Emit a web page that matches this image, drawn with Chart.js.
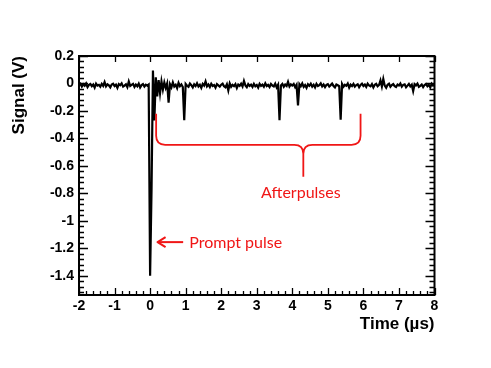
<!DOCTYPE html>
<html><head><meta charset="utf-8">
<script src="https://cdn.jsdelivr.net/npm/chart.js@4/dist/chart.umd.min.js"></script>
<style>html,body{margin:0;padding:0;background:#fff}#wrap{width:491px;height:368px}</style>
</head><body><div id="wrap"><canvas id="c" width="491" height="368"></canvas></div>
<script>
// ---- data (oscilloscope trace, sampled every 0.04 µs from -2 µs) ----
const sampleStart = -2.0;   // µs
const sampleStep = 0.04;    // µs
const signalMilliVolts = [
  // -2.00 .. -1.04
  -12,-2,-22,-6,-17,0,-26,-10,-4,-20,-8,-30,-1,-15,-10,-24,-3,-18,10,-21,-6,-14,-28,-8,-2,
  // -1.00 .. -0.04
  -19,-9,-32,-4,-13,1,-23,-15,-6,-27,14,-18,-10,-3,-25,-8,-20,-1,-29,-12,-5,-22,-9,-16,-8,
  // 0.00 .. 0.96 (prompt pulse, ringing, afterpulses)
  -1400,-780,95,-270,45,-95,25,-70,15,-45,8,-32,0,-140,-6,-28,8,-22,-10,-34,4,-20,-7,-26,-268,
  // 1.00 .. 1.96
  -4,-17,-24,-1,-13,-29,-6,-19,1,-22,-10,-32,-3,-15,15,-21,-8,-26,-2,-18,-11,-31,-5,-14,-23,
  // 2.00 .. 2.96
  -9,-1,-20,-28,-6,-50,0,-24,-10,-19,-4,-33,-8,-17,-2,-22,18,-14,-27,-5,-18,-9,-25,-3,-20,
  // 3.00 .. 3.96
  -11,-30,-2,-17,-8,-23,1,-19,-10,-26,-4,-15,-21,-1,-28,-9,-268,-14,-3,-24,-8,-18,12,-22,-6,
  // 4.00 .. 4.96
  -15,-4,-27,-10,-159,-5,-20,0,-25,-11,-32,-6,-17,-2,-23,-9,-29,-3,-19,-12,1,-21,-8,-26,-10,
  // 5.00 .. 5.96
  -5,-22,-12,-1,-18,-28,-8,-13,-20,-263,-4,-24,-10,-17,0,-30,-9,-19,-3,-23,-12,-6,-27,-11,-2,
  // 6.00 .. 6.96
  -18,-8,-25,-1,-15,-21,-5,-29,-10,-3,-20,-11,22,-22,32,-16,-31,-9,-2,-24,-12,-4,-19,-26,-8,
  // 7.00 .. 7.96
  -15,0,-23,-10,-6,-28,-16,-3,-21,-9,-55,-5,-14,-1,-24,-17,-8,-27,-11,-4,-20,-10,-29,-2,-16,
  // 8.00
  -10
];
const xTickLabels = [-2,-1,0,1,2,3,4,5,6,7,8];
const yTickLabels = [0.2,0,-0.2,-0.4,-0.6,-0.8,-1,-1.2,-1.4];
const xRange = [-2, 8];
const yRange = [-1.54, 0.2];

// ---- annotations (in data coordinates) ----
const bracket = {left:0.17, right:5.92, tip:4.31, top:-0.22, mid:-0.447, tipY:-0.68};
const arrow = {fromX:0.93, toX:0.21, y:-1.155};
const labels = [
  {text:'Prompt pulse', x:1.1, y:-1.195, align:'left'},
  {text:'Afterpulses', x:4.24, y:-0.835, align:'center'}
];

const points = signalMilliVolts.map((mv, i) => ({
  x: Math.round((sampleStart + i * sampleStep) * 1000) / 1000,
  y: mv / 1000
}));

const RED = 'rgb(240,22,22)';
const tickFont = {family:'Liberation Sans', weight:'bold', size:14};
const titleFont = {family:'Liberation Sans', weight:'bold', size:17};

const framePlugin = {
  id:'frame',
  afterDatasetsDraw(chart){
    const {ctx, chartArea:a, scales:{x, y}} = chart;
    ctx.save();
    ctx.strokeStyle = '#000';
    ctx.lineWidth = 2;
    ctx.strokeRect(a.left, a.top, a.right - a.left, a.bottom - a.top);
    ctx.lineWidth = 1.3;
    ctx.beginPath();
    for (let k = -40; k <= 6; k++) {
      const v = k * 0.04;
      if (v < yRange[0] - 1e-9 || v > yRange[1] + 1e-9) continue;
      const py = Math.round(y.getPixelForValue(v)) + 0.5;
      const major = (k % 5 === 0);
      const len = major ? 9 : 5;
      ctx.moveTo(a.left, py); ctx.lineTo(a.left + len, py);
      ctx.moveTo(a.right, py); ctx.lineTo(a.right - len, py);
    }
    for (let k = -10; k <= 40; k++) {
      const v = k * 0.2;
      const px = Math.round(x.getPixelForValue(v)) + 0.5;
      const major = (k % 5 === 0);
      const len = major ? 7 : 4;
      ctx.moveTo(px, a.bottom); ctx.lineTo(px, a.bottom - len);
      if (major) { ctx.moveTo(px, a.top); ctx.lineTo(px, a.top + 6); }
    }
    ctx.stroke();
    ctx.restore();
  },
  afterDraw(chart){
    const {ctx, scales:{x, y}} = chart;
    ctx.save();
    ctx.strokeStyle = RED;
    ctx.fillStyle = RED;
    ctx.lineWidth = 1.8;
    ctx.lineJoin = 'round';
    const L = x.getPixelForValue(bracket.left), R = x.getPixelForValue(bracket.right);
    const T = x.getPixelForValue(bracket.tip);
    const top = y.getPixelForValue(bracket.top), mid = y.getPixelForValue(bracket.mid);
    const tipY = y.getPixelForValue(bracket.tipY);
    const r = 9;
    ctx.beginPath();
    ctx.moveTo(L, top);
    ctx.lineTo(L, mid - r);
    ctx.quadraticCurveTo(L, mid, L + r, mid);
    ctx.lineTo(T - r, mid);
    ctx.quadraticCurveTo(T, mid, T, mid + r);
    ctx.lineTo(T, tipY);
    ctx.moveTo(T, mid + r);
    ctx.quadraticCurveTo(T, mid, T + r, mid);
    ctx.lineTo(R - r, mid);
    ctx.quadraticCurveTo(R, mid, R, mid - r);
    ctx.lineTo(R, top);
    ctx.stroke();
    const ax1 = x.getPixelForValue(arrow.fromX), ax2 = x.getPixelForValue(arrow.toX);
    const ay = y.getPixelForValue(arrow.y);
    ctx.lineWidth = 2;
    ctx.beginPath();
    ctx.moveTo(ax1, ay); ctx.lineTo(ax2 + 1, ay);
    ctx.stroke();
    ctx.beginPath();
    ctx.moveTo(ax2 + 8, ay - 5); ctx.lineTo(ax2, ay); ctx.lineTo(ax2 + 8, ay + 5);
    ctx.stroke();
    ctx.font = '16px Lato';
    ctx.textBaseline = 'alphabetic';
    labels.forEach(l => {
      ctx.textAlign = l.align;
      ctx.fillText(l.text, x.getPixelForValue(l.x), y.getPixelForValue(l.y));
    });
    ctx.restore();
  }
};

new Chart(document.getElementById('c'), {
  type:'line',
  data:{datasets:[{data:points, borderColor:'#000', borderWidth:2.2, pointRadius:0, tension:0, fill:false}]},
  options:{
    responsive:false, animation:false, devicePixelRatio:1,
    layout:{padding:{top:56, right:56.5, bottom:0, left:0}},
    plugins:{legend:{display:false}, tooltip:{enabled:false}},
    scales:{
      x:{
        type:'linear', min:xRange[0], max:xRange[1],
        afterBuildTicks:s => { s.ticks = xTickLabels.map(v => ({value:v})); },
        afterFit:s => { s.height = 73; },
        grid:{display:false, drawTicks:false}, border:{display:false},
        ticks:{font:tickFont, color:'#000', padding:3, maxRotation:0, autoSkip:false, callback:v => String(v)},
        title:{display:true, text:'Time (\u00b5s)', align:'end', color:'#000', font:titleFont, padding:{top:0, bottom:33}}
      },
      y:{
        type:'linear', min:yRange[0], max:yRange[1],
        afterBuildTicks:s => { s.ticks = yTickLabels.map(v => ({value:v})); },
        afterFit:s => { s.width = 79; },
        grid:{display:false, drawTicks:false}, border:{display:false},
        ticks:{font:tickFont, color:'#000', padding:5, autoSkip:false, callback:v => String(v)},
        title:{display:true, text:'Signal (V)', align:'end', color:'#000', font:titleFont, padding:{top:9, bottom:0}}
      }
    }
  },
  plugins:[framePlugin]
});
</script></body></html>
